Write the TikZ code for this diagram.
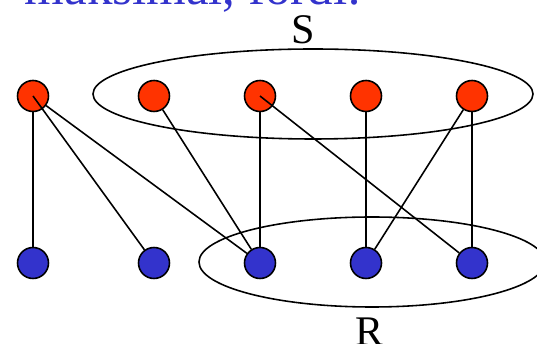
\documentclass[tikz,border=0pt]{standalone}
\usepackage{fontspec}
\setmainfont{Liberation Serif}
\definecolor{redv}{RGB}{255,51,0}
\definecolor{bluev}{RGB}{51,51,204}

\begin{document}
\begin{tikzpicture}[
  rnode/.style={circle, draw, line width=0.9pt, fill=redv, inner sep=0pt, minimum size=0.62cm},
  bnode/.style={circle, draw, line width=0.9pt, fill=bluev, inner sep=0pt, minimum size=0.62cm},
  edge/.style={line width=0.9pt},
  scale=1
]
\useasboundingbox (0,0) rectangle (10.74,-6.88);
\clip (0,0) rectangle (10.74,-6.88);

% Heading (cut at the top)
\node[anchor=base east, text=bluev, font=\fontsize{29}{30}\selectfont, inner sep=0pt] (head) at (7.24,-0.1) {maksimal, fordi:};

% Sets
\draw[edge] (6.26,-1.88) ellipse (4.4 and 0.9);
\draw[edge] (7.44,-5.24) ellipse (3.46 and 0.9);
\node[font=\fontsize{24}{26}\selectfont] (S) at (6.06,-0.6) {S};
\node[font=\fontsize{24}{26}\selectfont] (R) at (7.4,-6.64) {R};

% Top row
\node[rnode] (t1) at (0.66,-1.92) {};
\node[rnode] (t2) at (3.08,-1.92) {};
\node[rnode] (t3) at (5.2,-1.92) {};
\node[rnode] (t4) at (7.32,-1.92) {};
\node[rnode] (t5) at (9.44,-1.92) {};

% Bottom row
\node[bnode] (b1) at (0.66,-5.26) {};
\node[bnode] (b2) at (3.08,-5.26) {};
\node[bnode] (b3) at (5.2,-5.26) {};
\node[bnode] (b4) at (7.32,-5.26) {};
\node[bnode] (b5) at (9.44,-5.26) {};

% Edges
\draw[edge] (t1) -- (b1);
\draw[edge] (t1.center) -- (b2);
\draw[edge] (t1) -- (b3);
\draw[edge] (t2) -- (b3);
\draw[edge] (t3) -- (b3);
\draw[edge] (t3.center) -- (b5);
\draw[edge] (t4) -- (b4);
\draw[edge] (t5) -- (b4);
\draw[edge] (t5) -- (b5);
\end{tikzpicture}
\end{document}
